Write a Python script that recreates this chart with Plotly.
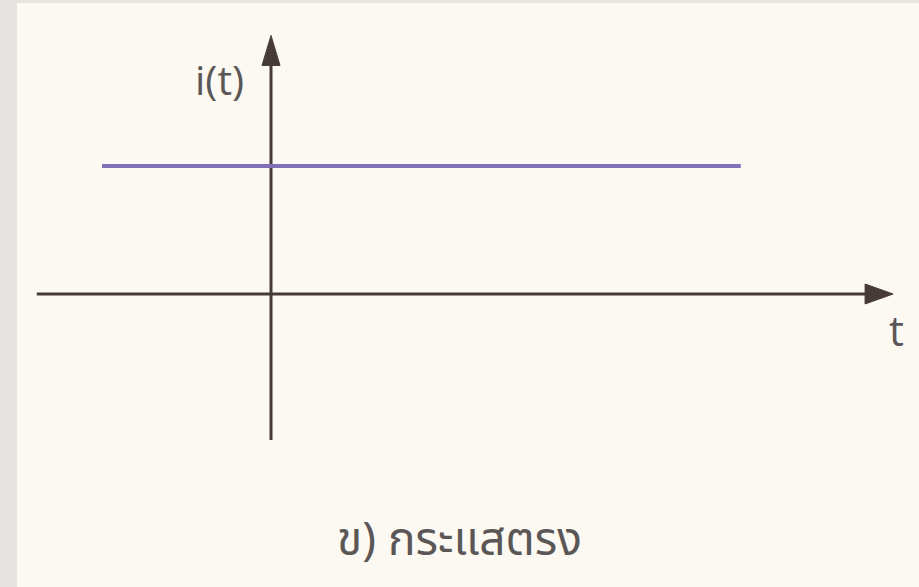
import plotly.graph_objects as go

# Direct current i(t): constant value over time, drawn on a bare t / i(t) cross of axes
dc_t = [-1.32, 3.67]
dc_i = [1.0, 1.0]

# extents of the two drawn axes (arrow tips at the far ends)
t_axis = [-1.83, 4.86]
i_axis = [-1.14, 2.02]

axis_label_t = "t"
axis_label_i = "i(t)"
caption = "ข) กระแสตรง"

PAGE = "#fcf8f2"
MARGIN = "#e6e4e0"
INK = "#463b39"
TEXT = "#5b5757"
DC = "#8170b8"

fig = go.Figure()

# axes lines (stop at the base of the arrowheads)
fig.add_trace(go.Scatter(x=[t_axis[0], t_axis[1] - 0.15], y=[0, 0], mode="lines",
                         line=dict(color=INK, width=3), hoverinfo="skip"))
fig.add_trace(go.Scatter(x=[0, 0], y=[i_axis[0], i_axis[1] - 0.15], mode="lines",
                         line=dict(color=INK, width=3), hoverinfo="skip"))

# the DC current level
fig.add_trace(go.Scatter(x=dc_t, y=dc_i, mode="lines",
                         line=dict(color=DC, width=4), hoverinfo="skip"))

# arrowheads, sized in pixels and anchored at the axis tips
fig.add_shape(type="path", xref="x", yref="y", xsizemode="pixel", ysizemode="pixel",
              xanchor=t_axis[1], yanchor=0,
              path="M 0 0 L -28 10 L -28 -10 Z",
              fillcolor=INK, line=dict(color=INK, width=1))
fig.add_shape(type="path", xref="x", yref="y", xsizemode="pixel", ysizemode="pixel",
              xanchor=0, yanchor=i_axis[1],
              path="M 0 0 L -9 -30 L 9 -30 Z",
              fillcolor=INK, line=dict(color=INK, width=1))

fig.add_annotation(x=-0.40, y=1.68, text=axis_label_i, showarrow=False,
                   font=dict(family="Open Sans, sans-serif", size=41, color=TEXT))
fig.add_annotation(x=4.89, y=-0.28, text=axis_label_t, showarrow=False,
                   font=dict(family="Open Sans, sans-serif", size=42, color=TEXT))
fig.add_annotation(x=1.47, y=-1.93, text=caption, showarrow=False,
                   font=dict(family="Noto Sans Thai, sans-serif", size=46, color=TEXT))

S = 128.0
fig.update_xaxes(range=[(17 - 271) / S, (919 - 271) / S], visible=False, fixedrange=True)
fig.update_yaxes(range=[(294 - 587) / S, (294 - 3) / S], visible=False, fixedrange=True)

fig.update_layout(
    width=919, height=587,
    margin=dict(l=17, r=0, t=3, b=0),
    paper_bgcolor=MARGIN, plot_bgcolor=PAGE,
    showlegend=False,
)

fig.write_html("out.html", config={"displayModeBar": False})
